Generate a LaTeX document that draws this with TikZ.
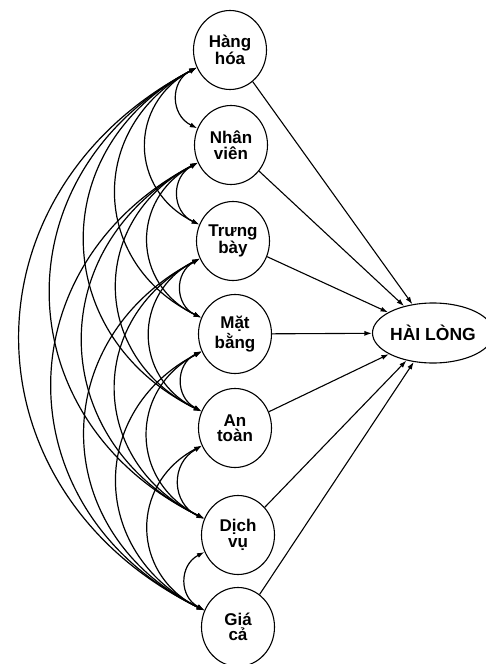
\documentclass[tikz,border=0pt]{standalone}
\usepackage{fontspec}
\setmainfont{Liberation Sans}
\usetikzlibrary{arrows.meta,shapes.geometric}
\tikzset{
  factor/.style={draw, line width=1.1pt, ellipse, minimum width=73pt, minimum height=79pt,
    inner sep=0pt, align=center, font=\bfseries\fontsize{17}{15.5}\selectfont},
  outcome/.style={draw, line width=1.1pt, ellipse, minimum width=97pt, minimum height=60pt,
    inner sep=0pt, align=center, font=\bfseries\fontsize{17.5}{16}\selectfont},
  tip/.style={-{Latex[length=7.5pt,width=5pt]}},
  cov/.style={{Latex[length=7.5pt,width=5pt]}-{Latex[length=7.5pt,width=5pt]}, line width=1.2pt, bend right=63, looseness=1.27},
  path/.style={tip, line width=1.1pt}
}
\begin{document}
\begin{tikzpicture}[x=1pt,y=-1pt]
\useasboundingbox (0,0) rectangle (485,664);
\node[factor] (n1) at (230,50) {Hàng\\hóa};
\node[factor] (n2) at (231,145) {Nhân\\viên};
\node[factor] (n3) at (233,241) {Trưng\\bày};
\node[factor] (n4) at (235,334) {Mặt\\bằng};
\node[factor] (n5) at (235,428) {An\\toàn};
\node[factor] (n6) at (238,535) {Dịch\\vụ};
\node[factor] (n7) at (238,627) {Giá\\cả};
\node[outcome] (hl) at (433,333) {HÀI LÒNG};
\foreach \i in {1,...,7} {\draw[path] (n\i) -- (hl);}
\foreach \i in {1,...,6} {
  \pgfmathtruncatemacro{\s}{\i+1}
  \foreach \j in {\s,...,7} {\draw[cov] (n\i) to (n\j);}
}
\end{tikzpicture}
\end{document}
